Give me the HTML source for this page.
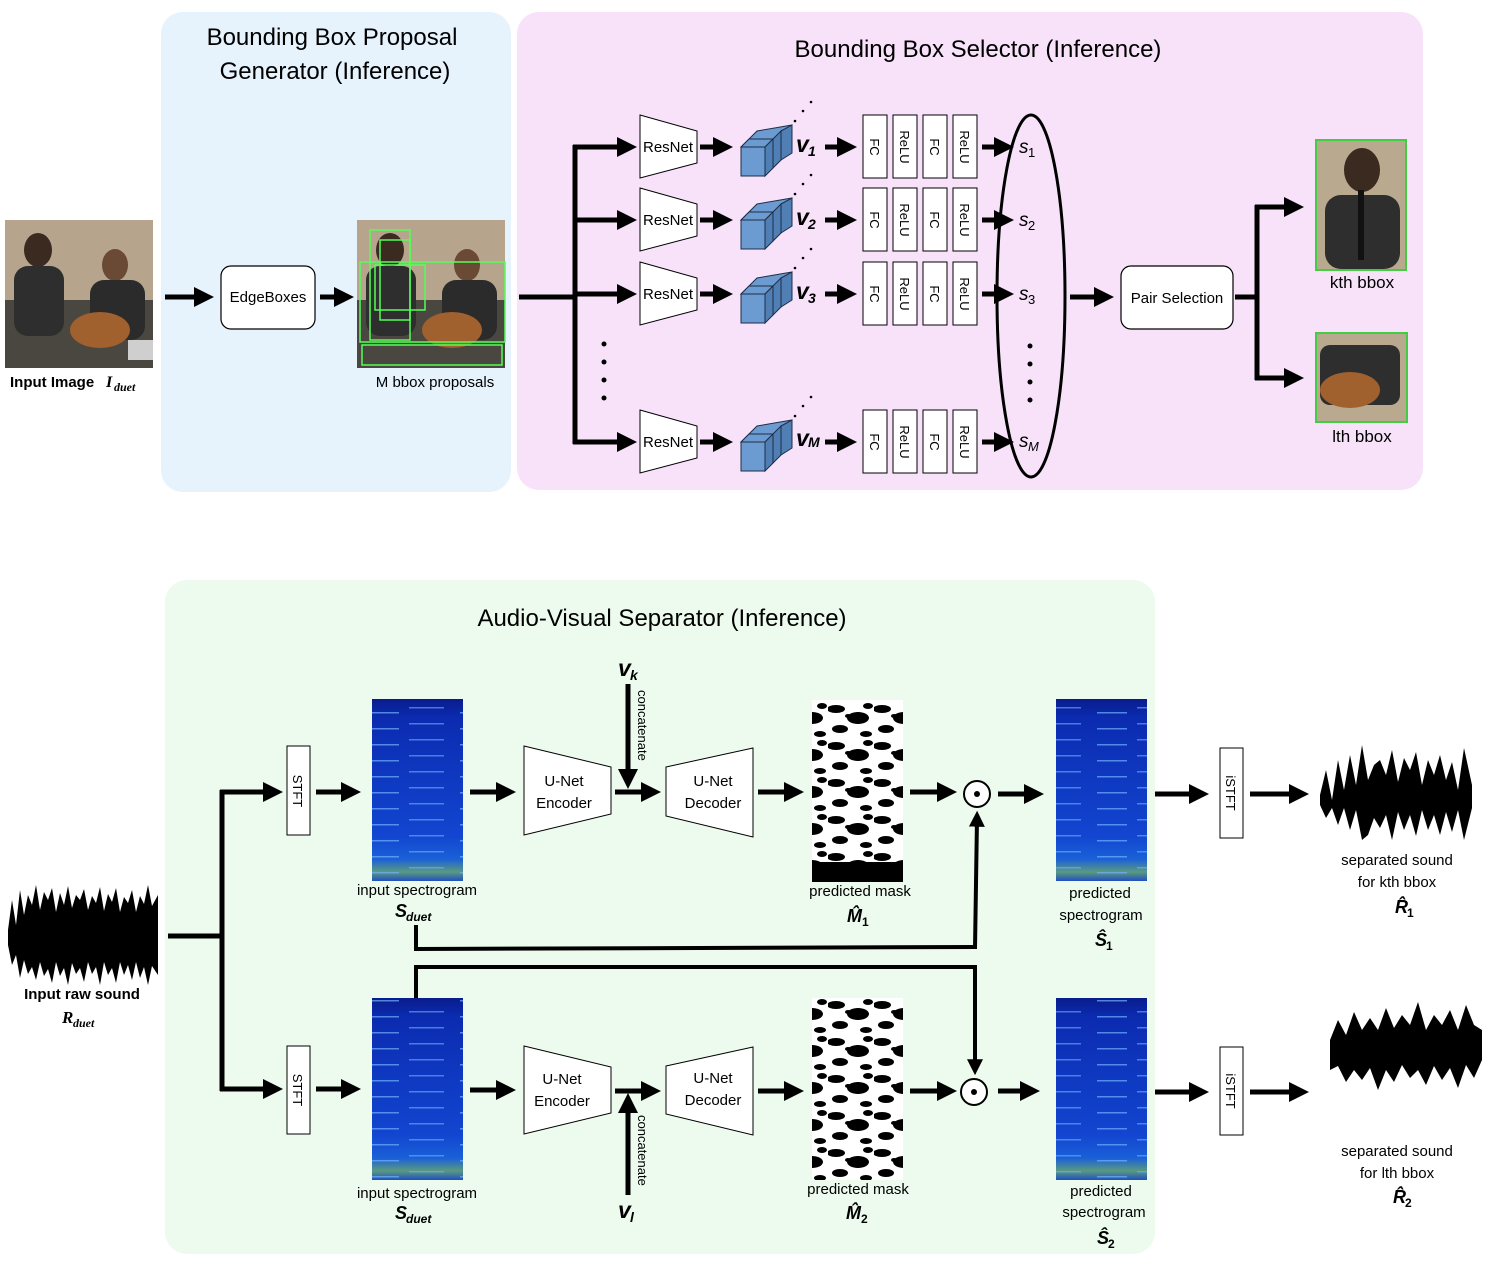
<!DOCTYPE html>
<html><head><meta charset="utf-8"><style>
html,body{margin:0;padding:0;background:#fff}
svg{display:block}
text{font-family:"Liberation Sans",sans-serif;fill:#000}
.m{font-family:"Liberation Serif",serif;font-weight:bold;font-style:italic}
</style></head><body>
<svg width="1492" height="1270" viewBox="0 0 1492 1270" xmlns="http://www.w3.org/2000/svg">
<defs>
<marker id="a" markerWidth="4" markerHeight="4" refX="2.2" refY="2" orient="auto" markerUnits="strokeWidth"><path d="M0,0 L4,2 L0,4 z" fill="#000"/></marker>
<linearGradient id="sp" x1="0" y1="0" x2="0" y2="1"><stop offset="0" stop-color="#0a1c8c"/><stop offset="0.1" stop-color="#0b2bb0"/><stop offset="0.75" stop-color="#1245d0"/><stop offset="0.88" stop-color="#1a60d8"/><stop offset="0.95" stop-color="#5a9a80"/><stop offset="1" stop-color="#2050c0"/></linearGradient>
<pattern id="sl" width="91" height="16" patternUnits="userSpaceOnUse"><rect x="5" y="8" width="30" height="1.5" fill="#6fb0ff" opacity=".7"/><rect x="45" y="3" width="35" height="1.5" fill="#6fb0ff" opacity=".6"/></pattern>
<pattern id="mk" width="46" height="37" patternUnits="userSpaceOnUse"><rect width="46" height="37" fill="#fff"/><ellipse cx="8" cy="6" rx="9" ry="4" fill="#000"/><ellipse cx="30" cy="15" rx="11" ry="6" fill="#000"/><ellipse cx="12" cy="26" rx="8" ry="4" fill="#000"/><ellipse cx="40" cy="3" rx="5" ry="3" fill="#000"/><ellipse cx="38" cy="31" rx="6" ry="3" fill="#000"/><ellipse cx="20" cy="13" rx="3" ry="2" fill="#000"/></pattern>
</defs>

<rect x="161" y="12" width="350" height="480" rx="22" fill="#e6f2fc"/>
<rect x="517" y="12" width="906" height="478" rx="22" fill="#f7e2f9"/>
<rect x="165" y="580" width="990" height="674" rx="22" fill="#edfbee"/>

<text x="332" y="45" font-size="24" text-anchor="middle">Bounding Box Proposal</text>
<text x="335" y="79" font-size="24" text-anchor="middle">Generator (Inference)</text>
<text x="978" y="57" font-size="24" text-anchor="middle">Bounding Box Selector (Inference)</text>
<text x="662" y="626" font-size="24" text-anchor="middle">Audio-Visual Separator (Inference)</text>

<g>
<rect x="5" y="220" width="148" height="148" fill="#b6a58c"/>
<rect x="5" y="300" width="148" height="68" fill="#4a4640"/>
<ellipse cx="38" cy="250" rx="14" ry="17" fill="#3a2a20"/><rect x="14" y="266" width="50" height="70" rx="14" fill="#2e2e2e"/>
<ellipse cx="115" cy="265" rx="13" ry="16" fill="#6a4a34"/><rect x="90" y="280" width="55" height="60" rx="14" fill="#2b2b2b"/>
<ellipse cx="100" cy="330" rx="30" ry="18" fill="#a0612e"/>
<rect x="128" y="340" width="25" height="20" fill="#cfcfcf"/>
</g>
<text x="10" y="387" font-size="15" font-weight="bold">Input Image</text><text x="106" y="387" font-size="16" class="m">I</text><text x="114" y="391" font-size="12" class="m">duet</text>

<line x1="165" y1="297" x2="205" y2="297" stroke="#000" stroke-width="5" marker-end="url(#a)"/>
<rect x="221" y="266" width="94" height="63" rx="10" fill="#fff" stroke="#000" stroke-width="1.2"/>
<text x="268" y="302" font-size="15" text-anchor="middle">EdgeBoxes</text>
<line x1="320" y1="297" x2="345" y2="297" stroke="#000" stroke-width="5" marker-end="url(#a)"/>

<g>
<rect x="357" y="220" width="148" height="148" fill="#b6a58c"/>
<rect x="357" y="300" width="148" height="68" fill="#4a4640"/>
<ellipse cx="390" cy="250" rx="14" ry="17" fill="#3a2a20"/><rect x="366" y="266" width="50" height="70" rx="14" fill="#2e2e2e"/>
<ellipse cx="467" cy="265" rx="13" ry="16" fill="#6a4a34"/><rect x="442" y="280" width="55" height="60" rx="14" fill="#2b2b2b"/>
<ellipse cx="452" cy="330" rx="30" ry="18" fill="#a0612e"/>
<g fill="none" stroke="#5f5" stroke-width="1.5"><rect x="370" y="230" width="40" height="110"/><rect x="375" y="265" width="50" height="45"/><rect x="360" y="262" width="145" height="80"/><rect x="380" y="240" width="30" height="80"/><rect x="362" y="345" width="140" height="20"/></g>
</g>
<text x="435" y="387" font-size="15" text-anchor="middle">M bbox proposals</text>

<g stroke="#000" stroke-width="5" fill="none">
<line x1="519" y1="297" x2="575" y2="297"/>
<line x1="575" y1="145" x2="575" y2="444"/>
</g>
<g stroke="#000" stroke-width="5" marker-end="url(#a)">
<line x1="573" y1="147" x2="628" y2="147"/><line x1="573" y1="220" x2="628" y2="220"/><line x1="573" y1="294" x2="628" y2="294"/><line x1="573" y1="442" x2="628" y2="442"/>
</g>
<g fill="#000"><circle cx="604" cy="344" r="2.5"/><circle cx="604" cy="362" r="2.5"/><circle cx="604" cy="380" r="2.5"/><circle cx="604" cy="398" r="2.5"/>
<circle cx="1030" cy="346" r="2.5"/><circle cx="1030" cy="364" r="2.5"/><circle cx="1030" cy="382" r="2.5"/><circle cx="1030" cy="400" r="2.5"/></g>

<g id="row1">
<polygon points="640,115 697,131 697,163 640,178" fill="#fff" stroke="#000"/>
<text x="668" y="152" font-size="15" text-anchor="middle">ResNet</text>
<line x1="700" y1="147" x2="724" y2="147" stroke="#000" stroke-width="5" marker-end="url(#a)"/>
<g stroke="#1e2e48" stroke-width="1" fill="#6b9bd0">
<polygon points="741,147 757,131 792,125 792,142 757,176 741,176"/>
<rect x="741" y="147" width="24" height="29"/><polygon points="741,147 765,147 773,139 749,139"/><polygon points="765,147 773,139 773,168 765,176" fill="#4f7fb4"/>
<polygon points="773,139 781,131 781,160 773,168" fill="#4f7fb4"/><polygon points="781,131 792,125 792,153 781,160" fill="#4f7fb4"/>
</g>
<g fill="#000"><circle cx="795" cy="121" r="1.3"/><circle cx="803" cy="111" r="1.3"/><circle cx="811" cy="102" r="1.3"/></g>
<line x1="825" y1="147" x2="848" y2="147" stroke="#000" stroke-width="5" marker-end="url(#a)"/>
<g fill="#fff" stroke="#000"><rect x="863" y="115" width="24" height="63"/><rect x="893" y="115" width="24" height="63"/><rect x="923" y="115" width="24" height="63"/><rect x="953" y="115" width="24" height="63"/></g>
<g font-size="13"><text transform="translate(870,147) rotate(90)" text-anchor="middle">FC</text><text transform="translate(900,147) rotate(90)" text-anchor="middle">ReLU</text><text transform="translate(930,147) rotate(90)" text-anchor="middle">FC</text><text transform="translate(960,147) rotate(90)" text-anchor="middle">ReLU</text></g>
<line x1="982" y1="147" x2="1005" y2="147" stroke="#000" stroke-width="5" marker-end="url(#a)"/>
</g>
<use href="#row1" y="73"/>
<use href="#row1" y="147"/>
<use href="#row1" y="295"/>

<g class="m"><text x="796" y="152" font-size="23">v</text><text x="808" y="156" font-size="14">1</text>
<text x="796" y="225" font-size="23">v</text><text x="808" y="229" font-size="14">2</text>
<text x="796" y="299" font-size="23">v</text><text x="808" y="303" font-size="14">3</text>
<text x="796" y="446" font-size="23">v</text><text x="808" y="447" font-size="14">M</text></g>
<g font-size="19" font-family="Liberation Serif" font-style="italic"><text x="1019" y="153" font-family="Liberation Serif">s</text><text x="1028" y="157" font-size="13" font-style="normal">1</text>
<text x="1019" y="226" font-family="Liberation Serif">s</text><text x="1028" y="230" font-size="13" font-style="normal">2</text>
<text x="1019" y="300" font-family="Liberation Serif">s</text><text x="1028" y="304" font-size="13" font-style="normal">3</text>
<text x="1019" y="447" font-family="Liberation Serif">s</text><text x="1028" y="451" font-size="13" font-family="Liberation Serif">M</text></g>
<ellipse cx="1031" cy="296" rx="34" ry="181" fill="none" stroke="#000" stroke-width="3"/>

<line x1="1070" y1="297" x2="1105" y2="297" stroke="#000" stroke-width="5" marker-end="url(#a)"/>
<rect x="1121" y="266" width="112" height="63" rx="10" fill="#fff" stroke="#000" stroke-width="1.2"/>
<text x="1177" y="303" font-size="15" text-anchor="middle">Pair Selection</text>
<g stroke="#000" stroke-width="5" fill="none"><line x1="1235" y1="297" x2="1257" y2="297"/><line x1="1257" y1="205" x2="1257" y2="380"/></g>
<g stroke="#000" stroke-width="5" marker-end="url(#a)"><line x1="1255" y1="207" x2="1295" y2="207"/><line x1="1255" y1="378" x2="1295" y2="378"/></g>

<g>
<rect x="1316" y="140" width="90" height="130" fill="#b9a98f" stroke="#4c4" stroke-width="2"/>
<ellipse cx="1362" cy="170" rx="18" ry="22" fill="#3a2a20"/><rect x="1325" y="195" width="75" height="74" rx="16" fill="#2e2e2e"/>
<rect x="1358" y="190" width="6" height="70" fill="#111"/>
</g>
<text x="1362" y="288" font-size="17" text-anchor="middle">kth bbox</text>
<g>
<rect x="1316" y="333" width="91" height="89" fill="#b9a98f" stroke="#4c4" stroke-width="2"/>
<rect x="1320" y="345" width="80" height="60" rx="10" fill="#2e2e2e"/>
<ellipse cx="1350" cy="390" rx="30" ry="18" fill="#a0612e"/>
</g>
<text x="1362" y="442" font-size="17" text-anchor="middle">lth bbox</text>

<g>
<path d="M8,930 L12,900 L16,925 L20,890 L24,915 L28,895 L32,905 L36,885 L40,910 L44,892 L48,900 L52,888 L56,912 L60,893 L64,905 L68,886 L72,908 L76,895 L80,900 L84,889 L88,910 L92,896 L96,903 L100,887 L104,911 L108,894 L112,902 L116,888 L120,912 L124,897 L128,903 L132,890 L136,912 L140,896 L144,904 L148,885 L152,906 L158,895 L158,975 L152,966 L148,985 L144,967 L140,978 L136,962 L132,980 L128,965 L124,975 L120,962 L116,983 L112,968 L108,975 L104,962 L100,985 L96,967 L92,974 L88,962 L84,982 L80,968 L76,974 L72,963 L68,985 L64,968 L60,976 L56,962 L52,983 L48,969 L44,976 L40,962 L36,980 L32,967 L28,974 L24,960 L20,978 L16,955 L12,965 L8,945 Z" fill="#000"/>
</g>
<text x="82" y="999" font-size="15" font-weight="bold" text-anchor="middle">Input raw sound</text>
<text x="62" y="1023" font-size="17" class="m">R</text><text x="73" y="1027" font-size="12" class="m">duet</text>

<g stroke="#000" stroke-width="5" fill="none"><line x1="168" y1="936" x2="222" y2="936"/><line x1="222" y1="790" x2="222" y2="1091"/></g>
<g stroke="#000" stroke-width="5" marker-end="url(#a)">
<line x1="220" y1="792" x2="274" y2="792"/><line x1="220" y1="1089" x2="274" y2="1089"/>
<line x1="316" y1="792" x2="352" y2="792"/><line x1="316" y1="1089" x2="352" y2="1089"/>
<line x1="470" y1="792" x2="507" y2="792"/><line x1="470" y1="1090" x2="507" y2="1090"/>
<line x1="615" y1="792" x2="652" y2="792"/><line x1="615" y1="1091" x2="652" y2="1091"/>
<line x1="628" y1="684" x2="628" y2="780"/><line x1="628" y1="1195" x2="628" y2="1102"/>
<line x1="758" y1="792" x2="795" y2="792"/><line x1="758" y1="1091" x2="795" y2="1091"/>
<line x1="910" y1="792" x2="948" y2="792"/><line x1="910" y1="1091" x2="948" y2="1091"/>
<line x1="998" y1="794" x2="1035" y2="794"/><line x1="998" y1="1091" x2="1031" y2="1091"/>
<line x1="1155" y1="794" x2="1200" y2="794"/><line x1="1155" y1="1092" x2="1200" y2="1092"/>
<line x1="1250" y1="794" x2="1300" y2="794"/><line x1="1250" y1="1092" x2="1300" y2="1092"/>
</g>
<g stroke="#000" stroke-width="4" fill="none">
<polyline points="416,925 416,949 975,947"/><polyline points="416,998 416,967 975,967 975,1062"/>
</g>
<g stroke="#000" stroke-width="4" marker-end="url(#a)"><line x1="975" y1="949" x2="977" y2="818"/><line x1="975" y1="1055" x2="975" y2="1068"/></g>

<g fill="#fff" stroke="#000"><rect x="287" y="746" width="23" height="89"/><rect x="287" y="1046" width="23" height="88"/><rect x="1220" y="748" width="23" height="90"/><rect x="1220" y="1047" width="23" height="88"/></g>
<g font-size="13" text-anchor="middle"><text transform="translate(293,791) rotate(90)">STFT</text><text transform="translate(293,1090) rotate(90)">STFT</text><text transform="translate(1226,793) rotate(90)">iSTFT</text><text transform="translate(1226,1091) rotate(90)">iSTFT</text></g>

<g>
<rect x="372" y="699" width="91" height="182" fill="url(#sp)"/><rect x="372" y="699" width="91" height="182" fill="url(#sl)"/>
<rect x="372" y="998" width="91" height="182" fill="url(#sp)"/><rect x="372" y="998" width="91" height="182" fill="url(#sl)"/>
<rect x="1056" y="699" width="91" height="182" fill="url(#sp)"/><rect x="1056" y="699" width="91" height="182" fill="url(#sl)"/>
<rect x="1056" y="998" width="91" height="182" fill="url(#sp)"/><rect x="1056" y="998" width="91" height="182" fill="url(#sl)"/>
<rect x="812" y="700" width="91" height="182" fill="url(#mk)"/><rect x="812" y="862" width="91" height="20" fill="#000"/>
<rect x="812" y="998" width="91" height="182" fill="url(#mk)"/>
</g>
<g font-size="15" text-anchor="middle">
<text x="417" y="895">input spectrogram</text><text x="417" y="1198">input spectrogram</text>
<text x="860" y="896">predicted mask</text><text x="858" y="1194">predicted mask</text>
<text x="1100" y="898">predicted</text><text x="1101" y="920">spectrogram</text>
<text x="1101" y="1196">predicted</text><text x="1104" y="1217">spectrogram</text>
<text x="1397" y="865">separated sound</text><text x="1397" y="887">for kth bbox</text>
<text x="1397" y="1156">separated sound</text><text x="1397" y="1178">for lth bbox</text>
</g>
<g font-size="18" class="m"><text x="395" y="917">S</text><text x="406" y="921" font-size="12">duet</text>
<text x="395" y="1219">S</text><text x="406" y="1223" font-size="12">duet</text>
<text x="847" y="922">M̂</text><text x="862" y="926" font-size="12" font-style="normal">1</text>
<text x="846" y="1219">M̂</text><text x="861" y="1223" font-size="12" font-style="normal">2</text>
<text x="1095" y="946">Ŝ</text><text x="1106" y="950" font-size="12" font-style="normal">1</text>
<text x="1097" y="1244">Ŝ</text><text x="1108" y="1248" font-size="12" font-style="normal">2</text>
<text x="1395" y="913">R̂</text><text x="1407" y="917" font-size="12" font-style="normal">1</text>
<text x="1393" y="1203">R̂</text><text x="1405" y="1207" font-size="12" font-style="normal">2</text>
<text x="618" y="676" font-size="23">v</text><text x="630" y="680" font-size="14">k</text>
<text x="618" y="1218" font-size="23">v</text><text x="630" y="1222" font-size="14">l</text></g>
<text transform="translate(638,690) rotate(90)" font-size="13">concatenate</text>
<text transform="translate(638,1115) rotate(90)" font-size="13">concatenate</text>

<g fill="#fff" stroke="#000">
<polygon points="524,746 611,767 611,814 524,835"/><polygon points="524,1046 611,1067 611,1113 524,1134"/>
<polygon points="666,767 753,748 753,837 666,816"/><polygon points="666,1066 753,1047 753,1135 666,1114"/>
</g>
<g font-size="15" text-anchor="middle"><text x="564" y="786">U-Net</text><text x="564" y="808">Encoder</text><text x="562" y="1084">U-Net</text><text x="562" y="1106">Encoder</text>
<text x="713" y="786">U-Net</text><text x="713" y="808">Decoder</text><text x="713" y="1083">U-Net</text><text x="713" y="1105">Decoder</text></g>

<g fill="#fff" stroke="#000" stroke-width="2"><circle cx="977" cy="794" r="13"/><circle cx="974" cy="1092" r="13"/></g>
<circle cx="977" cy="794" r="3" fill="#000"/><circle cx="974" cy="1092" r="3" fill="#000"/>

<path d="M1320,795 L1326,770 L1332,800 L1338,760 L1344,790 L1350,755 L1356,785 L1362,745 L1368,780 L1374,765 L1380,760 L1386,775 L1392,750 L1398,782 L1404,758 L1410,770 L1416,752 L1422,785 L1428,760 L1434,775 L1440,755 L1446,780 L1452,762 L1458,790 L1464,748 L1472,785 L1472,808 L1464,840 L1458,810 L1452,832 L1446,812 L1440,835 L1434,815 L1428,830 L1422,810 L1416,836 L1410,815 L1404,830 L1398,812 L1392,840 L1386,815 L1380,828 L1374,818 L1368,835 L1362,840 L1356,810 L1350,830 L1344,808 L1338,825 L1332,808 L1326,818 L1320,805 Z" fill="#000"/>
<path d="M1330,1040 L1338,1020 L1346,1035 L1354,1012 L1362,1030 L1370,1018 L1378,1030 L1386,1008 L1394,1028 L1402,1015 L1410,1025 L1418,1002 L1426,1030 L1434,1015 L1442,1025 L1450,1010 L1458,1030 L1466,1005 L1474,1025 L1482,1030 L1482,1060 L1474,1078 L1466,1065 L1458,1088 L1450,1068 L1442,1080 L1434,1066 L1426,1085 L1418,1070 L1410,1078 L1402,1065 L1394,1082 L1386,1070 L1378,1090 L1370,1068 L1362,1080 L1354,1070 L1346,1082 L1338,1066 L1330,1070 Z" fill="#000"/>
</svg>
</body></html>
